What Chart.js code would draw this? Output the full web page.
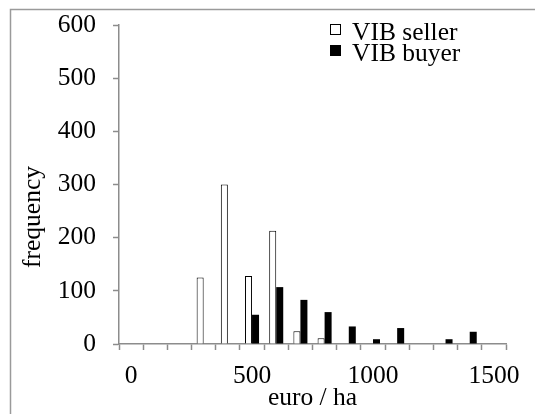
<!DOCTYPE html>
<html>
<head>
<meta charset="utf-8">
<script src="https://cdn.jsdelivr.net/npm/chart.js@4/dist/chart.umd.min.js"></script>
<style>
  html, body { margin: 0; padding: 0; background: #fff; }
  #wrap { width: 535px; height: 414px; position: relative; }
</style>
</head>
<body>
<div id="wrap"><canvas id="freqChart"></canvas></div>
<script>
// price classes (euro / ha), one bar group per class
const categories = ['0','100','200','300','400','500','600','700','800','900','1000','1100','1200','1300','1400','1500'];
const sellerValues = [0, 0, 0, 125, 300, 128, 213, 24, 11, 0, 0, 0, 0, 0, 0, 0];
const buyerValues  = [0, 0, 0, 0, 0, 55, 107, 83, 60, 33, 9, 30, 0, 9, 23, 0];
const xTickLabels = ['0', '500', '1000', '1500'];
const yTicks = [0, 100, 200, 300, 400, 500, 600];

const FONT = '"Liberation Serif", "Times New Roman", serif';
const FS = 25.5;
const AXIS = '#8c8c8c';

// outer frame (only top + left edge are visible in the picture)
const framePlugin = {
  id: 'frame',
  beforeDraw(chart) {
    const c = chart.ctx;
    c.save();
    c.fillStyle = '#fff';
    c.fillRect(0, 0, chart.width, chart.height);
    c.strokeStyle = '#9a9a9a';
    c.lineWidth = 1.5;
    c.beginPath();
    c.moveTo(10.5, chart.height);
    c.lineTo(10.5, 9.5);
    c.lineTo(chart.width, 9.5);
    c.stroke();
    c.restore();
  }
};

// legend in the top right of the plot + rotated y title
const extrasPlugin = {
  id: 'extras',
  afterDraw(chart) {
    const c = chart.ctx;
    c.save();
    c.font = `${FS}px ${FONT}`;
    c.textBaseline = 'alphabetic';
    c.textAlign = 'left';
    chart.data.datasets.forEach((ds, i) => {
      const base = 40 + i * 21;
      c.fillStyle = ds.backgroundColor;
      c.fillRect(330, base - 16, 11, 11);
      c.strokeStyle = '#000';
      c.lineWidth = 1;
      c.strokeRect(330.5, base - 15.5, 10, 10);
      c.fillStyle = '#000';
      c.fillText(ds.label, 352, base);
    });

    c.translate(33, 217);
    c.rotate(-Math.PI / 2);
    c.textAlign = 'center';
    c.textBaseline = 'middle';
    c.fillText('frequency', 0, 0);
    c.restore();
  }
};

new Chart(document.getElementById('freqChart'), {
  type: 'bar',
  data: {
    labels: categories,
    datasets: [
      {
        label: 'VIB seller',
        data: sellerValues,
        backgroundColor: '#ffffff',
        borderColor: '#000000',
        borderWidth: 1,
      },
      {
        label: 'VIB buyer',
        data: buyerValues,
        backgroundColor: '#000000',
        borderColor: '#000000',
        borderWidth: 0,
      }
    ]
  },
  options: {
    responsive: true,
    maintainAspectRatio: false,
    animation: false,
    devicePixelRatio: 1,
    categoryPercentage: 0.58,
    barPercentage: 1.0,
    layout: { padding: { left: 0, right: 29, top: 25, bottom: 0 } },
    plugins: {
      legend: { display: false },
      tooltip: { enabled: false },
    },
    scales: {
      x: {
        grid: {
          offset: true,
          drawOnChartArea: false,
          drawTicks: true,
          tickLength: 6,
          tickColor: AXIS,
          tickWidth: 1.5,
        },
        border: { display: true, color: AXIS, width: 1.5 },
        ticks: {
          autoSkip: false,
          maxRotation: 0,
          padding: 11,
          color: '#000',
          font: { family: FONT, size: FS },
          callback: (v, i) => xTickLabels.includes(categories[i]) ? categories[i] : '',
        },
        title: {
          display: true,
          text: 'euro / ha',
          color: '#000',
          font: { family: FONT, size: FS },
          padding: { top: 0, bottom: 0 },
        },
        afterFit: (s) => { s.height = 414 - 344; },
      },
      y: {
        min: 0,
        max: 600,
        afterBuildTicks: (s) => { s.ticks = yTicks.map(v => ({ value: v })); },
        grid: {
          drawOnChartArea: false,
          drawTicks: true,
          tickLength: 6,
          tickColor: AXIS,
          tickWidth: 1.5,
        },
        border: { display: true, color: AXIS, width: 1.5 },
        ticks: {
          padding: 17,
          color: '#000',
          font: { family: FONT, size: FS },
        },
        // fixed width; the label gap should not push the plot top down
        afterFit: (s) => { s.width = 119; s.paddingTop = 0; s.paddingBottom = 0; },
      }
    }
  },
  plugins: [framePlugin, extrasPlugin]
});
</script>
</body>
</html>
